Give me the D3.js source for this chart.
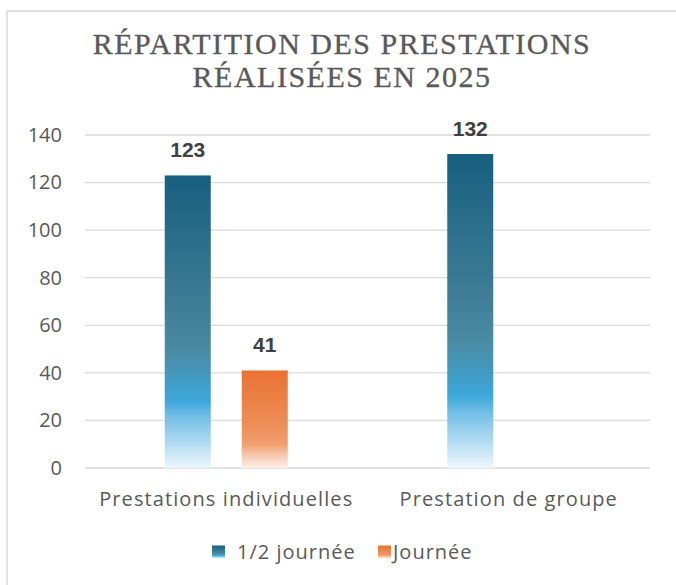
<!DOCTYPE html>
<html><head><meta charset="utf-8">
<script src="https://cdn.jsdelivr.net/npm/d3@7"></script>
<style>body{margin:0;background:#fff}svg{display:block}</style>
</head><body>
<svg id="c" width="676" height="585"></svg>
<script>
const categories = ["Prestations individuelles", "Prestation de groupe"];
const seriesNames = ["1/2 journée", "Journée"];
const halfDay = [123, 132];
const fullDay = [41, null];
const yTicks = [0, 20, 40, 60, 80, 100, 120, 140];
const titleLines = ["RÉPARTITION DES PRESTATIONS", "RÉALISÉES EN 2025"];

const svg = d3.select("#c");
const sans = "'Open Sans', 'Noto Sans', sans-serif";

// frame
svg.append("rect").attr("x", 7).attr("y", 11).attr("width", 700).attr("height", 600)
  .attr("fill", "#fff").attr("stroke", "#d9d9d9").attr("stroke-width", 1.5);

// gradients
const defs = svg.append("defs");
const gBlue = defs.append("linearGradient").attr("id", "gBlue").attr("x1", 0).attr("y1", 0).attr("x2", 0).attr("y2", 1);
[[0, "#175f80"], [0.45, "#3f7d96"], [0.6, "#4a8ba4"], [0.77, "#3ca7db"], [0.82, "#6fbde6"], [1, "#eef7fc"]]
  .forEach(([o, c]) => gBlue.append("stop").attr("offset", o).attr("stop-color", c));
const gOr = defs.append("linearGradient").attr("id", "gOr").attr("x1", 0).attr("y1", 0).attr("x2", 0).attr("y2", 1);
[[0, "#e97132"], [0.6, "#ee915c"], [0.76, "#f0a070"], [0.85, "#f5c2a3"], [1, "#fdf0ea"]]
  .forEach(([o, c]) => gOr.append("stop").attr("offset", o).attr("stop-color", c));

// title
svg.append("g").selectAll("text").data(titleLines).join("text")
  .attr("x", 342).attr("y", (d, i) => 54 + i * 33)
  .attr("text-anchor", "middle")
  .attr("font-family", "'Liberation Serif', 'DejaVu Serif', serif")
  .attr("font-size", 30).attr("fill", "#595959")
  .attr("letter-spacing", 1.5)
  .attr("stroke", "#595959").attr("stroke-width", 0.3)
  .text(d => d);

const x0 = d3.scaleBand().domain(categories).range([85, 650]);
const barW = 46, gap = 31;
const groupW = 2 * barW + gap;
const x1 = d3.scaleBand().domain(seriesNames)
  .range([(x0.bandwidth() - groupW) / 2, (x0.bandwidth() + groupW) / 2])
  .paddingInner(gap / (barW + gap)).paddingOuter(0);
const y = d3.scaleLinear().domain([0, 140]).range([468, 135]);

// grid
svg.append("g").selectAll("line").data(yTicks).join("line")
  .attr("x1", 85).attr("x2", 650)
  .attr("y1", d => y(d)).attr("y2", d => y(d))
  .attr("stroke", "#d9d9d9").attr("stroke-width", 1.3);

// y axis
const yAxis = svg.append("g").attr("transform", "translate(62,0)")
  .call(d3.axisLeft(y).tickValues(yTicks).tickSize(0).tickPadding(0));
yAxis.select(".domain").remove();
yAxis.selectAll("text").attr("font-family", sans).attr("font-size", 20).attr("fill", "#595959");

// x axis
const xAxis = svg.append("g").attr("transform", "translate(0,506)")
  .call(d3.axisBottom(x0).tickSize(0).tickPadding(0));
xAxis.select(".domain").remove();
xAxis.selectAll("text").attr("font-family", sans).attr("font-size", 20).attr("letter-spacing", 1.1)
  .attr("fill", "#595959").attr("dy", "0");

// bars
const data = categories.map((c, i) => ({ c, vals: [
  { s: seriesNames[0], v: halfDay[i], fill: "url(#gBlue)" },
  { s: seriesNames[1], v: fullDay[i], fill: "url(#gOr)" }
].filter(d => d.v != null) }));

const grp = svg.append("g").selectAll("g").data(data).join("g")
  .attr("transform", d => `translate(${x0(d.c)},0)`);
grp.selectAll("rect").data(d => d.vals).join("rect")
  .attr("x", d => x1(d.s)).attr("width", x1.bandwidth())
  .attr("y", d => y(d.v)).attr("height", d => y(0) - y(d.v))
  .attr("fill", d => d.fill);
grp.selectAll("text").data(d => d.vals).join("text")
  .attr("x", d => x1(d.s) + x1.bandwidth() / 2)
  .attr("y", d => y(d.v) - 18)
  .attr("text-anchor", "middle")
  .attr("font-family", "'Liberation Sans', Arial, sans-serif")
  .attr("font-weight", "bold").attr("font-size", 21).attr("fill", "#404040")
  .text(d => d.v);

// legend
const legend = svg.append("g").attr("transform", "translate(0,552)");
const legItems = [
  { name: seriesNames[0], fill: "url(#gBlue)", x: 212, tx: 25 },
  { name: seriesNames[1], fill: "url(#gOr)", x: 378, tx: 15 }
];
const li = legend.selectAll("g").data(legItems).join("g").attr("transform", d => `translate(${d.x},0)`);
li.append("rect").attr("x", 0).attr("y", -6.5).attr("width", 13).attr("height", 13).attr("fill", d => d.fill);
li.append("text").attr("x", d => d.tx).attr("y", 0).attr("dy", "0.35em")
  .attr("font-family", sans).attr("font-size", 20).attr("letter-spacing", 1)
  .attr("fill", "#595959").text(d => d.name);
</script>
</body></html>
